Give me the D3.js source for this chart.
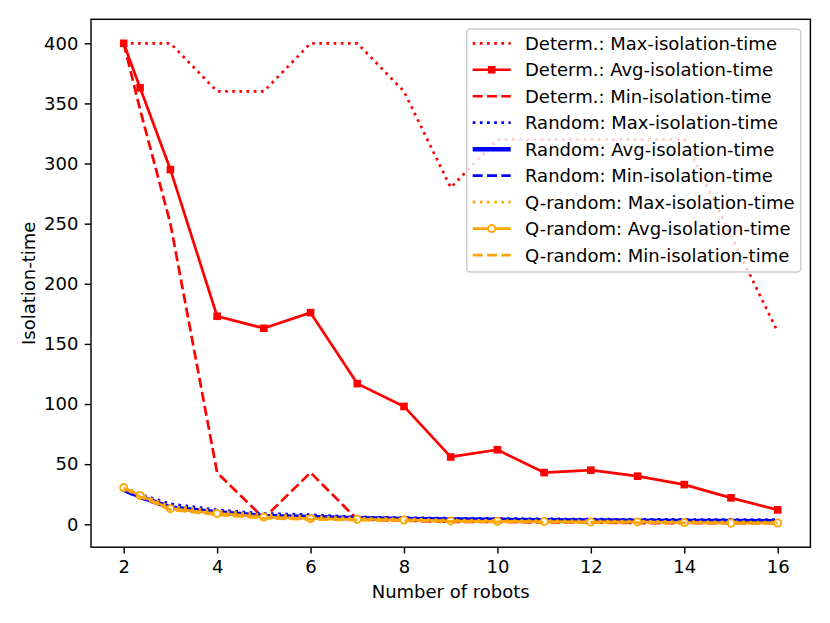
<!DOCTYPE html>
<html><head><meta charset="utf-8">
<script src="https://cdn.jsdelivr.net/npm/d3@7"></script>
<style>
body{margin:0;background:#fff;}
svg{display:block;font-family:"DejaVu Sans",sans-serif;}
</style></head>
<body><svg id="c" width="830" height="623"></svg>
<script>
const robots = [2, 2.35, 3, 4, 5, 6, 7, 8, 9, 10, 11, 12, 13, 14, 15, 16];
const detMax = [400,400,400,360,360,400,400,360,280,320,320,320,320,320,240,160];
const detAvg = [400,363,295,173,163,176,117,98,56,62,43,45,40,33,22,12];
const detMin = [400,345,250,43,5,43,4,3,2,2,1.5,1.5,1,1,1,1];
const randMax = [30,25,17,12,9,8,6,5.5,5,4.8,4.5,4.3,4.1,4,3.9,3.8];
const randAvg = [29,23,14,10,7,6,5,4.5,4,3.7,3.4,3.2,3,2.8,2.7,2.6];
const randMin = [28,22,13,9,6,5,4.2,3.8,3.3,3,2.8,2.6,2.4,2.2,2.1,2];
const qMax = [31,25,15,11,8,6.5,5,4.5,3.5,3.2,3,2.8,2.6,2.2,2,1.8];
const qAvg = [30.5,24,13,9,6,4.7,4.2,3.6,2.8,2.5,2.3,2,2,1.4,1.1,1.1];
const qMin = [30,23,12,8,5,4,3.5,3,2.4,2,1.8,1.6,1.5,1.2,1,0.9];
const xTicks = [2,4,6,8,10,12,14,16];
const yTicks = [0,50,100,150,200,250,300,350,400];

const series = [
  {name:"Determ.: Max-isolation-time", data:detMax, color:"#ff0000", style:"dotted", w:2.7},
  {name:"Determ.: Avg-isolation-time", data:detAvg, color:"#ff0000", style:"solid", w:2.7, marker:"square"},
  {name:"Determ.: Min-isolation-time", data:detMin, color:"#ff0000", style:"dashed", w:2.7},
  {name:"Random: Max-isolation-time", data:randMax, color:"#0000ff", style:"dotted", w:2.7},
  {name:"Random: Avg-isolation-time", data:randAvg, color:"#0000ff", style:"solid", w:4.5},
  {name:"Random: Min-isolation-time", data:randMin, color:"#0000ff", style:"dashed", w:2.7},
  {name:"Q-random: Max-isolation-time", data:qMax, color:"#ffa500", style:"dotted", w:2.7},
  {name:"Q-random: Avg-isolation-time", data:qAvg, color:"#ffa500", style:"solid", w:2.7, marker:"circle"},
  {name:"Q-random: Min-isolation-time", data:qMin, color:"#ffa500", style:"dashed", w:2.7}
];
const dashes = {solid:null, dotted:"2.7,4.46", dashed:"10,4.3"};

const L=91, R=810.4, T=19.3, B=547.2;
const x = d3.scaleLinear().domain([1.3,16.7]).range([L,R]);
const y = d3.scaleLinear().domain([-19.05,419.95]).range([B,T]);
const svg = d3.select("#c");

const plot = svg.append("g");
const line = d3.line().x((d,i)=>x(robots[i])).y(d=>y(d));

series.forEach(s=>{
  plot.append("path").attr("d", line(s.data)).attr("fill","none")
    .attr("stroke", s.color).attr("stroke-width", s.w)
    .attr("stroke-dasharray", dashes[s.style]).attr("stroke-linejoin","round");
  if(s.marker==="square"){
    plot.selectAll(null).data(s.data).enter().append("rect")
      .attr("x",(d,i)=>x(robots[i])-3.8).attr("y",d=>y(d)-3.8)
      .attr("width",7.6).attr("height",7.6).attr("fill",s.color);
  } else if(s.marker==="circle"){
    plot.selectAll(null).data(s.data).enter().append("circle")
      .attr("cx",(d,i)=>x(robots[i])).attr("cy",d=>y(d)).attr("r",3.6)
      .attr("fill","#fff").attr("stroke",s.color).attr("stroke-width",1.8);
  }
});

// axes
const xAxis = svg.append("g").attr("transform",`translate(0,${B})`)
  .call(d3.axisBottom(x).tickValues(xTicks).tickSize(6.3).tickPadding(6.3).tickFormat(d3.format("d")));
const yAxis = svg.append("g").attr("transform",`translate(${L},0)`)
  .call(d3.axisLeft(y).tickValues(yTicks).tickSize(6.3).tickPadding(6.3).tickFormat(d3.format("d")));
[xAxis,yAxis].forEach(a=>{
  a.select(".domain").remove();
  a.selectAll("line").attr("stroke","#000").attr("stroke-width",1.44);
  a.selectAll("text").attr("font-size",18).attr("font-family","DejaVu Sans").attr("fill","#000");
});
svg.append("rect").attr("x",L).attr("y",T).attr("width",R-L).attr("height",B-T)
  .attr("fill","none").attr("stroke","#000").attr("stroke-width",1.44);

svg.append("text").attr("x",(L+R)/2).attr("y",598).attr("text-anchor","middle")
  .attr("font-size",18).text("Number of robots");
svg.append("text").attr("transform",`translate(35,${(T+B)/2}) rotate(-90)`)
  .attr("text-anchor","middle").attr("font-size",18).text("Isolation-time");

// legend
const lg = svg.append("g");
lg.append("rect").attr("x",466.7).attr("y",29).attr("width",334).attr("height",243)
  .attr("rx",3.5).attr("fill","#fff").attr("fill-opacity",0.8)
  .attr("stroke","#cccccc").attr("stroke-width",1.44);
series.forEach((s,i)=>{
  const yy = 43.3 + i*26.47;
  lg.append("line").attr("x1",472.7).attr("x2",510.7).attr("y1",yy).attr("y2",yy)
    .attr("stroke",s.color).attr("stroke-width",s.w).attr("stroke-dasharray",dashes[s.style]);
  if(s.marker==="square"){
    lg.append("rect").attr("x",491.7-3.8).attr("y",yy-3.8).attr("width",7.6).attr("height",7.6).attr("fill",s.color);
  } else if(s.marker==="circle"){
    lg.append("circle").attr("cx",491.7).attr("cy",yy).attr("r",3.6).attr("fill","#fff")
      .attr("stroke",s.color).attr("stroke-width",1.8);
  }
  lg.append("text").attr("x",525).attr("y",yy).attr("dy","0.36em").attr("font-size",18).text(s.name);
});
</script></body></html>
